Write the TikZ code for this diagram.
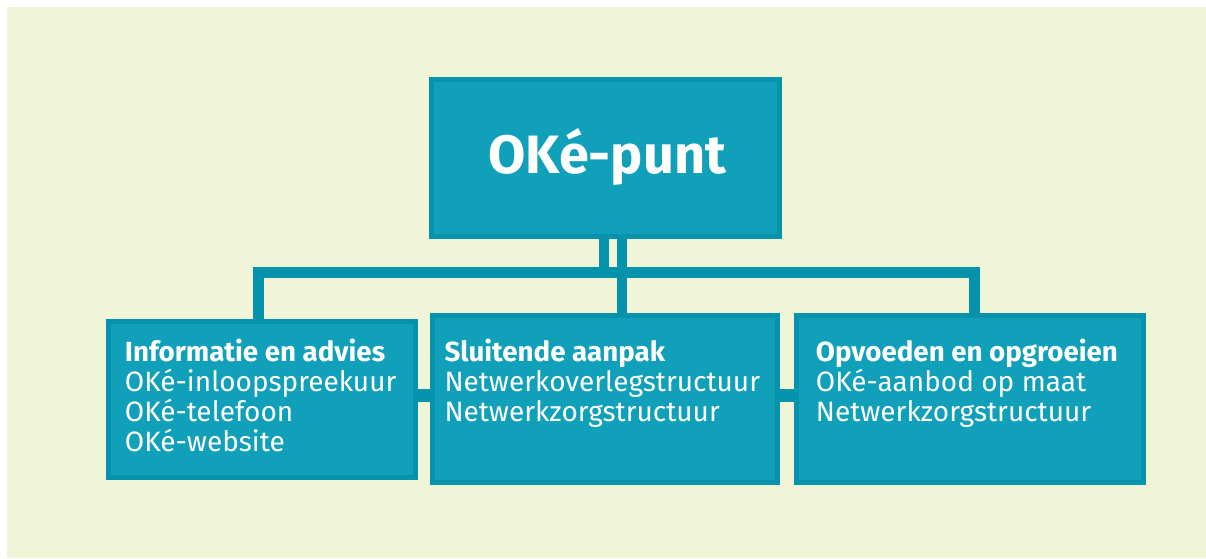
\documentclass[tikz,border=0pt]{standalone}
\usepackage{fontspec}
\setmainfont{Fira Sans}
\usetikzlibrary{backgrounds}
\definecolor{bg}{HTML}{F0F5D7}
\definecolor{boxfill}{HTML}{11A0BA}
\definecolor{boxline}{HTML}{0592AB}
\tikzset{
  box/.style={draw=boxline, fill=boxfill, line width=5pt, inner sep=0pt},
  conn/.style={draw=boxline, line width=11pt},
  bar/.style={draw=boxline, line width=10pt},
  side/.style={draw=boxline, line width=13pt},
  headtxt/.style={text=white, font=\bfseries\fontsize{27.7}{30}\selectfont, inner sep=0pt, anchor=base west},
  itemtxt/.style={text=white, font=\fontsize{28}{30}\selectfont, inner sep=0pt, anchor=base west},
  titletxt/.style={text=white, font=\bfseries\fontsize{54}{60}\selectfont, inner sep=0pt, anchor=base}
}
\begin{document}
\begin{tikzpicture}[x=1pt,y=-1pt]
\useasboundingbox (0,0) rectangle (1206,558);
\begin{pgfonlayer}{background}
\fill[white] (0,0) rectangle (1206,558);
\fill[bg] (7,7) rectangle (1206,558);
\end{pgfonlayer}
% boxes
\node[box, minimum width=348pt, minimum height=157.3pt] (top) at (605.2,157.85) {};
\node[box, minimum width=307.3pt, minimum height=156pt] (lft) at (262.15,399.8) {};
\node[box, minimum width=345.3pt, minimum height=167.6pt] (mid) at (605.15,399) {};
\node[box, minimum width=347pt, minimum height=167.6pt] (rgt) at (969.7,399) {};
% connectors
\coordinate (hbR) at (974.65,272.5);
\coordinate (t1) at ([xshift=-0.9pt]top.south);
\coordinate (t2) at ([xshift=16.3pt]top.south);
\begin{pgfonlayer}{background}
\draw[conn] ([xshift=-4.15pt]lft.north) |- (hbR) -- ([xshift=4.95pt]rgt.north);
\draw[bar] (t1) -- (t1 |- hbR);
\draw[bar] (t2) -- (t2 |- mid.north);
\draw[side] ([yshift=4.8pt]lft.east) -- ([yshift=4pt]mid.west);
\draw[side] ([yshift=4pt]mid.east) -- ([yshift=4pt]rgt.west);
\end{pgfonlayer}
% texts
\node[titletxt] (title) at (607.3,173.3) {OKé-punt};
\node[headtxt] (lh) at (124.7,361) {Informatie en advies};
\node[itemtxt] (l1) at (124.7,391) {OKé-inloopspreekuur};
\node[itemtxt] (l2) at (124.7,421.5) {OKé-telefoon};
\node[itemtxt] (l3) at (124.7,451.7) {OKé-website};
\node[headtxt] (mh) at (444.3,361) {Sluitende aanpak};
\node[itemtxt] (m1) at (444.3,391) {Netwerkoverlegstructuur};
\node[itemtxt] (m2) at (444.3,421.5) {Netwerkzorgstructuur};
\node[headtxt] (rh) at (815.7,361) {Opvoeden en opgroeien};
\node[itemtxt] (r1) at (815.7,391) {OKé-aanbod op maat};
\node[itemtxt] (r2) at (815.7,421.5) {Netwerkzorgstructuur};
\end{tikzpicture}
\end{document}
